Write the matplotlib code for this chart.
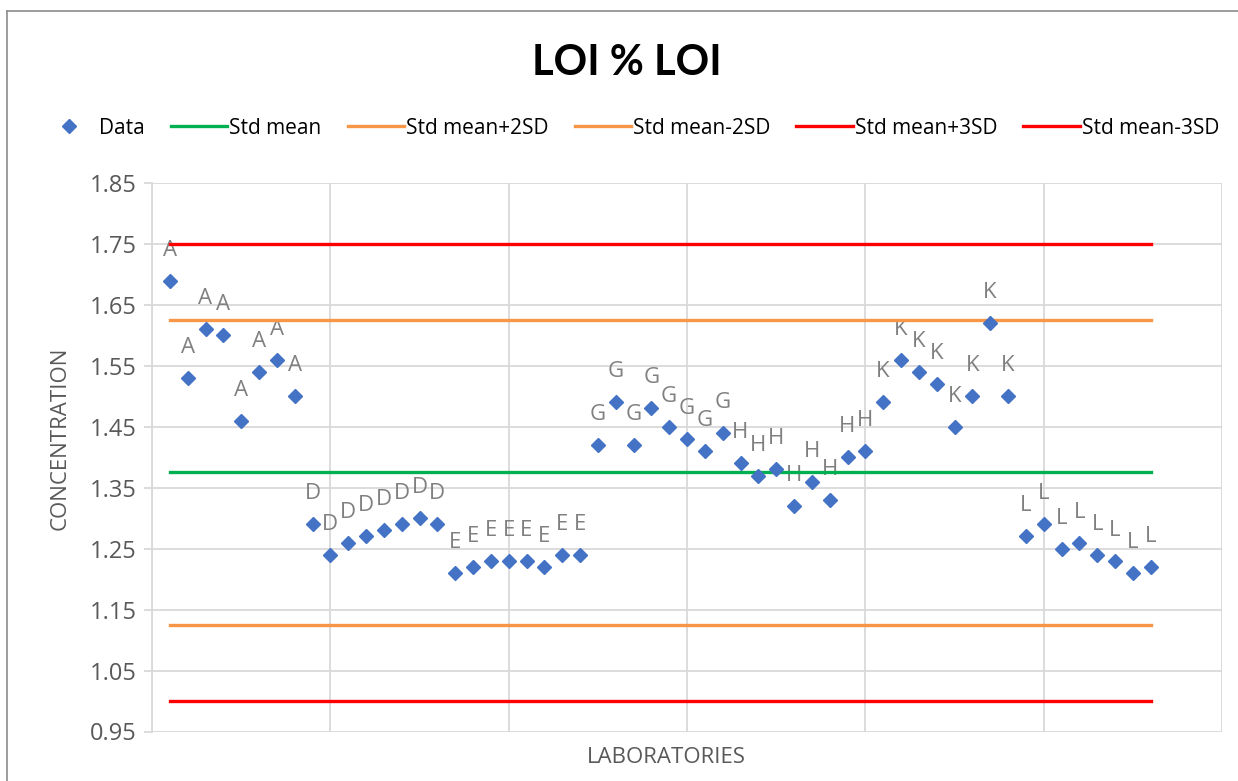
import numpy as np
import matplotlib
matplotlib.use("Agg")
import matplotlib.pyplot as plt
from matplotlib.lines import Line2D

# wartosci (8 pomiarow na laboratorium)
labs = ["A", "D", "E", "G", "H", "K", "L"]
values_A = [1.69, 1.53, 1.61, 1.60, 1.46, 1.54, 1.56, 1.50]
values_D = [1.29, 1.24, 1.26, 1.27, 1.28, 1.29, 1.30, 1.29]
values_E = [1.21, 1.22, 1.23, 1.23, 1.23, 1.22, 1.24, 1.24]
values_G = [1.42, 1.49, 1.42, 1.48, 1.45, 1.43, 1.41, 1.44]
values_H = [1.39, 1.37, 1.38, 1.32, 1.36, 1.33, 1.40, 1.41]
values_K = [1.49, 1.56, 1.54, 1.52, 1.45, 1.50, 1.62, 1.50]
values_L = [1.27, 1.29, 1.25, 1.26, 1.24, 1.23, 1.21, 1.22]

std_mean = 1.375
std_sd = 0.125

all_values = values_A + values_D + values_E + values_G + values_H + values_K + values_L
point_labels = []
for lab in labs:
    point_labels += [lab] * 8

x = np.arange(1, len(all_values) + 1)

GRID = "#d9d9d9"
TXT = "#595959"
LBL = "#808080"
BLUE = "#4472c4"
FONT = "Open Sans"

fig = plt.figure(figsize=(12.38, 7.81), dpi=100)
ax = fig.add_axes([152 / 1238, 1 - 731.5 / 781, (1222 - 152) / 1238, (731.5 - 183) / 781])

ax.plot(x, all_values, linestyle="none", marker="D", markersize=7.5, color=BLUE, zorder=5)
for xi, yi, lab in zip(x, all_values, point_labels):
    ax.annotate(lab, (xi, yi), xytext=(0, 18), textcoords="offset points",
                ha="center", va="baseline", fontsize=16, color=LBL, family=FONT)

limits = [
    (std_mean, "#00b050"),
    (std_mean + 2 * std_sd, "#f79646"),
    (std_mean - 2 * std_sd, "#f79646"),
    (std_mean + 3 * std_sd, "#ff0000"),
    (std_mean - 3 * std_sd, "#ff0000"),
]
for level, col in limits:
    ax.plot([x[0], x[-1]], [level, level], color=col, linewidth=2.4, zorder=4)

ax.set_xlim(0, 60)
ax.set_ylim(0.95, 1.85)
yt = np.arange(0.95, 1.851, 0.1)
ax.set_yticks(yt)
ax.set_yticklabels([f"{v:.2f}" for v in yt])
ax.set_xticks(np.arange(0, 61, 10))
ax.set_xticklabels([])
ax.grid(True, color=GRID, linewidth=1.3)
ax.set_axisbelow(True)
for side in ["top", "right", "bottom"]:
    ax.spines[side].set_visible(False)
ax.spines["left"].set_color(GRID)
ax.spines["left"].set_linewidth(1.3)
ax.tick_params(axis="y", colors=GRID, labelcolor=TXT, length=6, width=1.3, labelsize=17, pad=5)
ax.tick_params(axis="x", length=0)
for t in ax.get_yticklabels():
    t.set_family(FONT)

fig.text(60 / 1238, 1 - 438 / 781, "CONCENTRATION", rotation=90, ha="center", va="center",
         fontsize=16, color=TXT, family=FONT)
fig.text(666 / 1238, 1 - 763 / 781, "LABORATORIES", ha="center", va="baseline",
         fontsize=16, color=TXT, family=FONT)

fig.text(627 / 1238, 1 - 75 / 781, "LOI % LOI", ha="center", va="baseline",
         fontsize=30, fontweight="bold", family="Lato", color="black")

handles = [Line2D([], [], linestyle="none", marker="D", markersize=7.5, color=BLUE)]
for level, col in limits:
    handles.append(Line2D([], [], color=col, linewidth=2.4))
names = ["Data", "Std mean", "Std mean+2SD", "Std mean-2SD", "Std mean+3SD", "Std mean-3SD"]
fig.legend(handles, names, loc="center", bbox_to_anchor=(630 / 1238, 1 - 128 / 781), ncol=6,
           frameon=False, prop={"family": FONT, "size": 15}, handlelength=2.7,
           handletextpad=0.1, columnspacing=1.25, borderaxespad=0, borderpad=0)

# ramka wykresu (lewa i gorna krawedz widoczna)
fig.add_artist(Line2D([7 / 1238, 7 / 1238], [0, 1 - 11 / 781], color="#8c8c8c", linewidth=1.2))
fig.add_artist(Line2D([7 / 1238, 1], [1 - 11 / 781, 1 - 11 / 781], color="#8c8c8c", linewidth=1.2))

fig.savefig("out.png", dpi=100)
